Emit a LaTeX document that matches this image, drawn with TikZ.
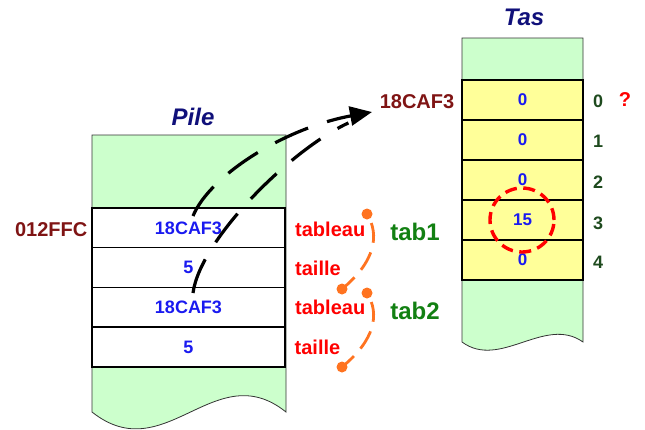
\documentclass[tikz,border=0pt]{standalone}
\usepackage{fontspec}
\setmainfont{Liberation Sans}
\usetikzlibrary{arrows.meta}

\definecolor{zonegreen}{HTML}{CCFFCC}
\definecolor{heapyellow}{HTML}{FFFF99}
\definecolor{valblue}{HTML}{1A1AF0}
\definecolor{addrred}{HTML}{7F1414}
\definecolor{idxgreen}{HTML}{1E4A1E}
\definecolor{tabgreen}{HTML}{128012}
\definecolor{braceorange}{HTML}{FF7320}
\definecolor{titlenavy}{HTML}{10107A}

\newcommand{\fsz}[1]{\bfseries\fontsize{#1}{#1}\selectfont}

\begin{document}
\begin{tikzpicture}[x=1pt,y=-1pt,
  zone/.style={fill=zonegreen, draw=black!80, line width=0.8pt},
  pilecell/.style={draw=black, line width=1.3pt, fill=white,
    minimum width=193pt, minimum height=40pt, inner sep=0pt,
    text=valblue, font=\fsz{18}},
  heapcell/.style={draw=black, line width=1.3pt, fill=heapyellow,
    minimum width=121pt, minimum height=40pt, inner sep=0pt,
    text=valblue, font=\fsz{17}},
  title/.style={text=titlenavy, font=\bfseries\itshape\fontsize{24}{24}\selectfont, inner sep=0pt},
  addr/.style={text=addrred, font=\fsz{20}, inner sep=0pt},
  field/.style={text=red, font=\fsz{20}, inner sep=0pt, anchor=west},
  varname/.style={text=tabgreen, font=\fsz{24}, inner sep=0pt},
  index/.style={text=idxgreen, font=\fsz{18}, inner sep=0pt},
  ptr/.style={draw=black, line width=3.2pt, dash pattern=on 36pt off 20pt},
  brace/.style={draw=braceorange, line width=2.8pt,
    dash pattern=on 20pt off 10pt, dash phase=20pt},
  bdot/.style={circle, fill=braceorange, minimum size=11pt, inner sep=0pt},
  ringmark/.style={circle, draw=red, line width=3.4pt,
    dash pattern=on 12pt off 6.5pt, minimum size=64pt, inner sep=0pt}
]
\useasboundingbox (0,0) rectangle (645,429);

% ---- stack (Pile) ----
\path[zone] (92,135) -- (286,135) -- (286,412)
  .. controls (215,355) and (165,470) .. (92,412) -- cycle;
\node[title] (piletitle) at (193,117) {Pile};
\node[pilecell] (p1) at (188.5,228) {18CAF3};
\node[pilecell] (p2) at (188.5,267.5) {5};
\node[pilecell] (p3) at (188.5,307.5) {18CAF3};
\node[pilecell] (p4) at (188.5,347) {5};
\node[addr, anchor=east] (paddr) at (87.5,230) {012FFC};

\node[field] (f1) at (295,229) {tableau};
\node[field] (f2) at (295,268.5) {taille};
\node[field] (f3) at (295,307) {tableau};
\node[field] (f4) at (294.5,347) {taille};

% ---- heap (Tas) ----
\path[zone] (462,38) -- (583,38) -- (583,342)
  .. controls (545,315) and (500,370) .. (462,342) -- cycle;
\node[title] (tastitle) at (524,17) {Tas};
\node[heapcell] (h0) at (522.5,100) {0};
\node[heapcell] (h1) at (522.5,140) {0};
\node[heapcell] (h2) at (522.5,180) {0};
\node[heapcell] (h3) at (522.5,220) {15};
\node[heapcell] (h4) at (522.5,260) {0};
\node[addr] (haddr) at (417,102) {18CAF3};

\node[index] (i0) at (598,101) {0};
\node[index] (i1) at (598,141) {1};
\node[index] (i2) at (598,182.5) {2};
\node[index] (i3) at (598,223.5) {3};
\node[index] (i4) at (598,262) {4};
\node[text=red, font=\fsz{20}, inner sep=0pt] (qm) at (625,100) {?};

% marked element
\node[ringmark] (ring) at (522,220) {};

% ---- variables tab1 / tab2 ----
\node[bdot] (a1) at (367,214) {};
\node[bdot] (b1) at (342,289) {};
\node[bdot] (a2) at (367,293) {};
\node[bdot] (b2) at (342,367) {};
\draw[brace] (a1.center) .. controls +(13,21) and +(33,-27) .. (b1.center);
\draw[brace] (a2.center) .. controls +(13,21) and +(33,-27) .. (b2.center);
\node[varname] (t1) at (415,232) {tab1};
\node[varname] (t2) at (415,311) {tab2};

% ---- pointers from the stack to the heap ----
\coordinate (s1) at (193,216);
\coordinate (s2) at (193,293);
\coordinate (tip) at (372,112);
\draw[ptr, shorten >=26pt] (s2) .. controls (200,240) and (290,150) .. (tip);
\draw[ptr, -{Triangle[length=22pt,width=19pt]}] (s1) .. controls (210,175) and (285,128) .. (tip);
\end{tikzpicture}
\end{document}
